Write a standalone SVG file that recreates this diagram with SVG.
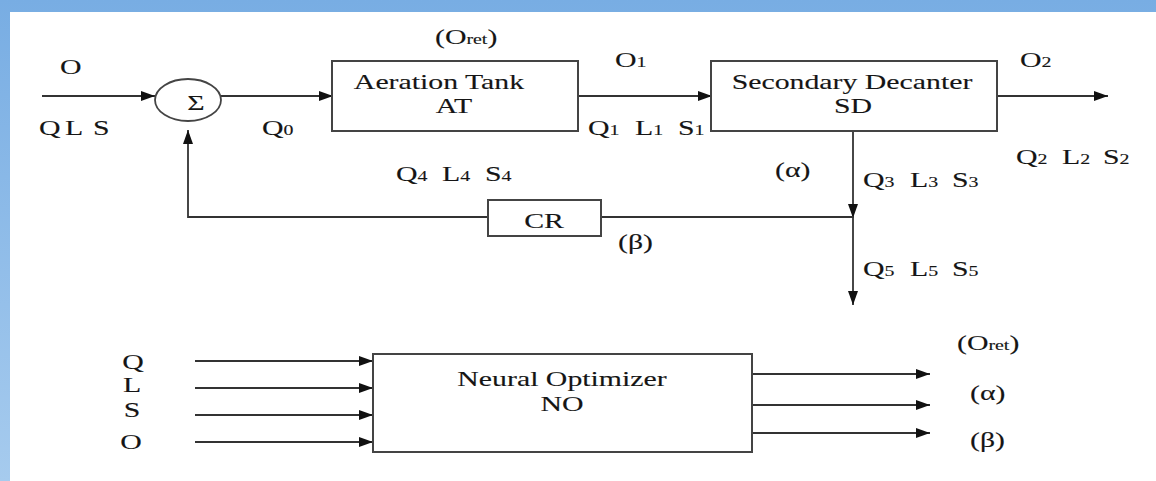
<svg xmlns="http://www.w3.org/2000/svg" width="1156" height="481" viewBox="0 0 1156 481" font-family="'Liberation Serif', 'Times New Roman', Tinos, 'DejaVu Serif', serif">
<style>
.t{font-family:'Liberation Serif','Times New Roman',Tinos,'DejaVu Serif',serif;font-size:21px;fill:#151515;stroke:#151515;stroke-width:0.12}
.s{font-size:14px}
.box{fill:#fff;stroke:#444;stroke-width:2}
.ln{fill:none;stroke:#333;stroke-width:1.8}
.arr{marker-end:url(#ah)}
</style>
<defs>
<linearGradient id="bg" x1="0" y1="0" x2="0" y2="1">
<stop offset="0" stop-color="#78ade3"/>
<stop offset="1" stop-color="#a6cbee"/>
</linearGradient>
<marker id="ah" markerUnits="userSpaceOnUse" markerWidth="14" markerHeight="10" refX="14" refY="5" orient="auto">
<path d="M0,0 L14,5 L0,10 z" fill="#111"/>
</marker>
</defs>
<rect x="0" y="0" width="1156" height="481" fill="url(#bg)"/>
<rect x="10" y="12" width="1146" height="469" fill="#fff"/>

<g id="connectors">
<line class="ln arr" x1="42" y1="96" x2="155" y2="96"/>
<line class="ln arr" x1="221" y1="96" x2="333" y2="96"/>
<line class="ln arr" x1="578" y1="96" x2="712" y2="96"/>
<line class="ln arr" x1="997" y1="96" x2="1108" y2="96"/>
<line class="ln arr" x1="853" y1="131" x2="853" y2="218"/>
<line class="ln arr" x1="853" y1="217" x2="853" y2="305"/>
<line class="ln" x1="853" y1="217" x2="601" y2="217"/>
<polyline class="ln arr" points="488,217 188,217 188,130"/>
<line class="ln arr" x1="195" y1="361" x2="373" y2="361"/>
<line class="ln arr" x1="195" y1="388" x2="373" y2="388"/>
<line class="ln arr" x1="195" y1="415" x2="373" y2="415"/>
<line class="ln arr" x1="195" y1="442" x2="373" y2="442"/>
<line class="ln arr" x1="752" y1="374" x2="930" y2="374"/>
<line class="ln arr" x1="752" y1="405" x2="930" y2="405"/>
<line class="ln arr" x1="752" y1="433" x2="930" y2="433"/>
</g>

<g id="sum">
<ellipse cx="188" cy="100" rx="33" ry="21" fill="#fff" stroke="#444" stroke-width="1.8"/>
<text class="t" text-anchor="middle" transform="translate(196,110) scale(1.42,1)">Σ</text>
</g>

<g id="aeration-tank">
<rect class="box" x="332" y="61" width="246" height="70"/>
<text class="t" text-anchor="middle" transform="translate(439,89) scale(1.42,1)">Aeration Tank</text>
<text class="t" text-anchor="middle" transform="translate(454,113) scale(1.42,1)">AT</text>
</g>

<g id="secondary-decanter">
<rect class="box" x="711" y="61" width="286" height="70"/>
<text class="t" text-anchor="middle" transform="translate(852,89) scale(1.42,1)">Secondary Decanter</text>
<text class="t" text-anchor="middle" transform="translate(853,113) scale(1.42,1)">SD</text>
</g>

<g id="cr">
<rect class="box" x="488" y="200" width="113" height="36"/>
<text class="t" text-anchor="middle" transform="translate(544,228) scale(1.42,1)">CR</text>
</g>

<g id="neural-optimizer">
<rect class="box" x="373" y="354" width="379" height="98"/>
<text class="t" text-anchor="middle" transform="translate(562,386) scale(1.42,1)">Neural Optimizer</text>
<text class="t" text-anchor="middle" transform="translate(562,411) scale(1.42,1)">NO</text>
</g>

<g id="labels">
<text class="t" transform="translate(60,74) scale(1.42,1)">O</text>
<text class="t" transform="translate(39,135) scale(1.42,1)">Q</text>
<text class="t" transform="translate(65,135) scale(1.42,1)">L</text>
<text class="t" transform="translate(93,135) scale(1.42,1)">S</text>
<text class="t" transform="translate(262,135) scale(1.42,1)">Q<tspan class="s">0</tspan></text>
<text class="t" transform="translate(435,44) scale(1.42,1)">(O<tspan class="s">ret</tspan>)</text>
<text class="t" transform="translate(615,67) scale(1.42,1)">O<tspan class="s">1</tspan></text>
<text class="t" transform="translate(588,135) scale(1.42,1)">Q<tspan class="s">1</tspan></text>
<text class="t" transform="translate(635,135) scale(1.42,1)">L<tspan class="s">1</tspan></text>
<text class="t" transform="translate(678,135) scale(1.42,1)">S<tspan class="s">1</tspan></text>
<text class="t" transform="translate(1020,67) scale(1.42,1)">O<tspan class="s">2</tspan></text>
<text class="t" transform="translate(1016,164) scale(1.42,1)">Q<tspan class="s">2</tspan></text>
<text class="t" transform="translate(1062,164) scale(1.42,1)">L<tspan class="s">2</tspan></text>
<text class="t" transform="translate(1103,164) scale(1.42,1)">S<tspan class="s">2</tspan></text>
<text class="t" transform="translate(396,181) scale(1.42,1)">Q<tspan class="s">4</tspan></text>
<text class="t" transform="translate(442,181) scale(1.42,1)">L<tspan class="s">4</tspan></text>
<text class="t" transform="translate(485,181) scale(1.42,1)">S<tspan class="s">4</tspan></text>
<text class="t" transform="translate(775,177) scale(1.42,1)">(α)</text>
<text class="t" transform="translate(863,187) scale(1.42,1)">Q<tspan class="s">3</tspan></text>
<text class="t" transform="translate(910,187) scale(1.42,1)">L<tspan class="s">3</tspan></text>
<text class="t" transform="translate(952,187) scale(1.42,1)">S<tspan class="s">3</tspan></text>
<text class="t" transform="translate(618,249) scale(1.42,1)">(β)</text>
<text class="t" transform="translate(863,276) scale(1.42,1)">Q<tspan class="s">5</tspan></text>
<text class="t" transform="translate(910,276) scale(1.42,1)">L<tspan class="s">5</tspan></text>
<text class="t" transform="translate(952,276) scale(1.42,1)">S<tspan class="s">5</tspan></text>
<text class="t" text-anchor="middle" transform="translate(133,369) scale(1.42,1)">Q</text>
<text class="t" text-anchor="middle" transform="translate(132,392) scale(1.42,1)">L</text>
<text class="t" text-anchor="middle" transform="translate(132,417) scale(1.42,1)">S</text>
<text class="t" text-anchor="middle" transform="translate(131,449) scale(1.42,1)">O</text>
<text class="t" transform="translate(957,350) scale(1.42,1)">(O<tspan class="s">ret</tspan>)</text>
<text class="t" transform="translate(970,400) scale(1.42,1)">(α)</text>
<text class="t" transform="translate(970,447) scale(1.42,1)">(β)</text>
</g>
</svg>
